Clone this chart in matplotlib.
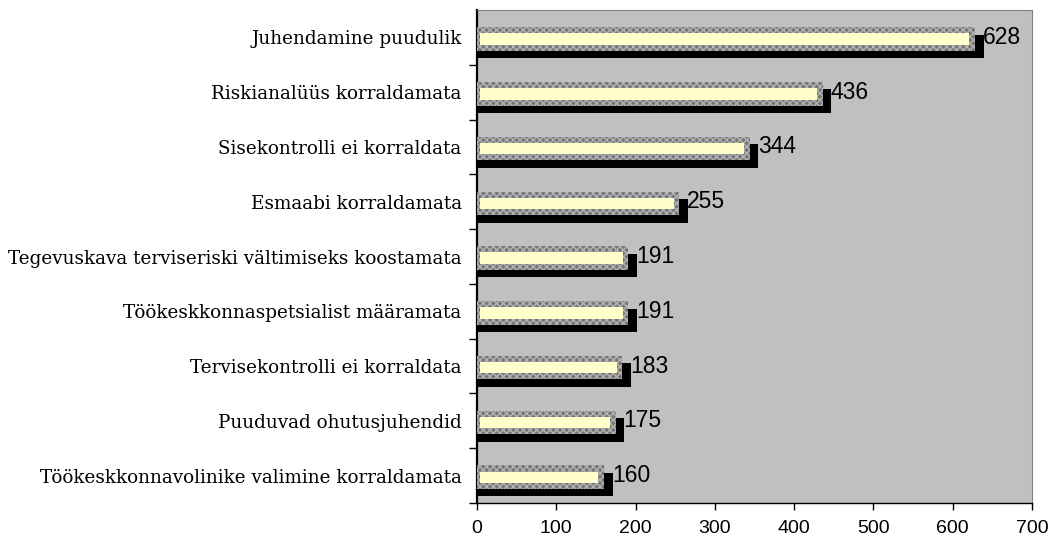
import numpy as np
import matplotlib.pyplot as plt

categories = [
    "Juhendamine puudulik",
    "Riskianalüüs korraldamata",
    "Sisekontrolli ei korraldata",
    "Esmaabi korraldamata",
    "Tegevuskava terviseriski vältimiseks koostamata",
    "Töökeskkonnaspetsialist määramata",
    "Tervisekontrolli ei korraldata",
    "Puuduvad ohutusjuhendid",
    "Töökeskkonnavolinike valimine korraldamata",
]
values = [628, 436, 344, 255, 191, 191, 183, 175, 160]
xticks = [0, 100, 200, 300, 400, 500, 600, 700]

fig = plt.figure(figsize=(10.52, 5.41), dpi=100)
ax = fig.add_axes([0.4534, 0.0702, 0.5276, 0.9113])
ax.set_facecolor("#c0c0c0")

y = np.arange(len(categories))
vals = np.array(values)
h = 0.43
# shadow offsets (data units), roughly 9px right and 9px down
dx, dy = 11.0, 0.165
ins_x, ins_y = 7.0, 0.11

# black drop shadow first, then the dithered grey frame, then the yellow face
ax.barh(y + dy, vals + dx, height=h, color="black", zorder=2)
ax.barh(y + 0.03, vals, height=h, color="#767676", hatch="xxxxx",
        edgecolor="#b4b4b4", linewidth=0, zorder=3)
ax.barh(y + 0.03, vals - ins_x - 4, left=4, height=h - 2 * ins_y,
        color="#ffffcc", linewidth=0, zorder=4)

for yi, v in zip(y, values):
    ax.text(v + 10, yi, str(v), ha="left", va="center", fontsize=16.5,
            family="Liberation Sans", zorder=5)

ax.set_xlim(0, 700)
ax.set_ylim(len(categories) - 0.5, -0.5)
ax.set_xticks(xticks)
ax.set_xticklabels([str(t) for t in xticks], fontsize=14, family="Liberation Sans")

# category labels sit between the tick marks, which go at the boundaries
ax.set_yticks(np.arange(1, len(categories) + 1) - 0.5)
ax.set_yticklabels([])
ax.set_yticks(y, minor=True)
ax.set_yticklabels(categories, minor=True, fontsize=13.2, family="DejaVu Serif")
ax.tick_params(axis="y", which="minor", length=0, pad=11)
ax.tick_params(axis="y", which="major", length=6, width=1, direction="out")
ax.tick_params(axis="x", length=5, width=1, direction="out", pad=7.5)

ax.spines["left"].set_linewidth(1.6)
ax.spines["bottom"].set_linewidth(1.0)
ax.spines["right"].set_color("#808080")
ax.spines["top"].set_color("#808080")

fig.savefig("out.png", dpi=100)
